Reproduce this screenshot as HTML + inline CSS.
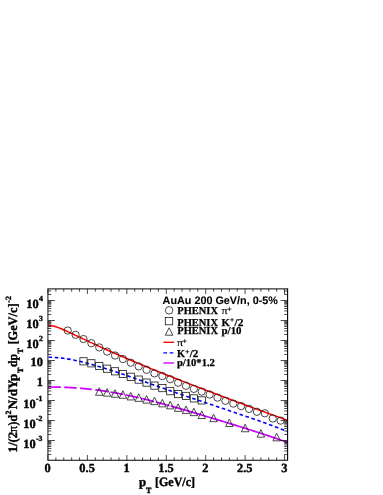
<!DOCTYPE html>
<html><head><meta charset="utf-8"><title>plot</title>
<style>html,body{margin:0;padding:0;background:#fff;}svg{display:block;will-change:transform;opacity:0.999}text{font-family:"Liberation Serif",serif;font-weight:bold;fill:#000;stroke:#000;stroke-width:0.4px;text-rendering:geometricPrecision}.sans{font-family:"Liberation Sans",sans-serif;font-weight:bold;stroke-width:0.1px}.lg{stroke-width:0.25px}</style></head><body>
<svg width="383" height="495" viewBox="0 0 383 495">
<clipPath id="c"><rect x="47.9" y="288.8" width="239.70000000000002" height="171.39999999999998"/></clipPath>
<g fill="none" clip-path="url(#c)">
<path d="M48.00,325.43 L49.72,325.50 L51.45,325.72 L53.17,326.06 L54.89,326.51 L56.62,327.05 L58.34,327.66 L60.07,328.32 L61.79,329.03 L63.51,329.76 L65.24,330.52 L66.96,331.29 L68.68,332.08 L70.41,332.88 L72.13,333.68 L73.86,334.49 L75.58,335.31 L77.30,336.12 L79.03,336.94 L80.75,337.75 L82.47,338.57 L84.20,339.38 L85.92,340.19 L87.65,341.00 L89.37,341.81 L91.09,342.61 L92.82,343.41 L94.54,344.21 L96.26,345.01 L97.99,345.80 L99.71,346.59 L101.44,347.37 L103.16,348.16 L104.88,348.93 L106.61,349.71 L108.33,350.48 L110.05,351.25 L111.78,352.02 L113.50,352.78 L115.23,353.54 L116.95,354.29 L118.67,355.05 L120.40,355.80 L122.12,356.54 L123.84,357.29 L125.57,358.03 L127.29,358.77 L129.02,359.50 L130.74,360.23 L132.46,360.96 L134.19,361.69 L135.91,362.41 L137.63,363.13 L139.36,363.85 L141.08,364.57 L142.81,365.28 L144.53,366.00 L146.25,366.71 L147.98,367.41 L149.70,368.12 L151.42,368.82 L153.15,369.52 L154.87,370.22 L156.60,370.92 L158.32,371.61 L160.04,372.30 L161.77,373.00 L163.49,373.68 L165.21,374.37 L166.94,375.06 L168.66,375.74 L170.39,376.42 L172.11,377.11 L173.83,377.78 L175.56,378.46 L177.28,379.14 L179.00,379.81 L180.73,380.49 L182.45,381.16 L184.18,381.83 L185.90,382.50 L187.62,383.17 L189.35,383.84 L191.07,384.50 L192.79,385.17 L194.52,385.83 L196.24,386.50 L197.97,387.16 L199.69,387.82 L201.41,388.48 L203.14,389.14 L204.86,389.79 L206.58,390.45 L208.31,391.11 L210.03,391.76 L211.76,392.42 L213.48,393.07 L215.20,393.72 L216.93,394.37 L218.65,395.02 L220.37,395.67 L222.10,396.32 L223.82,396.97 L225.55,397.62 L227.27,398.27 L228.99,398.91 L230.72,399.56 L232.44,400.20 L234.16,400.84 L235.89,401.49 L237.61,402.13 L239.34,402.77 L241.06,403.41 L242.78,404.05 L244.51,404.69 L246.23,405.32 L247.95,405.96 L249.68,406.60 L251.40,407.23 L253.13,407.87 L254.85,408.50 L256.57,409.13 L258.30,409.76 L260.02,410.39 L261.74,411.02 L263.47,411.65 L265.19,412.28 L266.92,412.90 L268.64,413.53 L270.36,414.15 L272.09,414.78 L273.81,415.40 L275.53,416.02 L277.26,416.64 L278.98,417.26 L280.71,417.87 L282.43,418.49 L284.15,419.10 L285.88,419.72 L287.60,420.33" stroke="#f00" stroke-width="1.5"/>
<path d="M48.00,357.27 L49.72,357.28 L51.45,357.32 L53.17,357.39 L54.89,357.48 L56.62,357.60 L58.34,357.75 L60.07,357.92 L61.79,358.11 L63.51,358.33 L65.24,358.56 L66.96,358.83 L68.68,359.11 L70.41,359.41 L72.13,359.73 L73.86,360.07 L75.58,360.42 L77.30,360.79 L79.03,361.18 L80.75,361.58 L82.47,362.00 L84.20,362.43 L85.92,362.87 L87.65,363.32 L89.37,363.78 L91.09,364.26 L92.82,364.74 L94.54,365.23 L96.26,365.73 L97.99,366.24 L99.71,366.76 L101.44,367.28 L103.16,367.82 L104.88,368.35 L106.61,368.90 L108.33,369.45 L110.05,370.00 L111.78,370.56 L113.50,371.12 L115.23,371.69 L116.95,372.26 L118.67,372.84 L120.40,373.41 L122.12,374.00 L123.84,374.58 L125.57,375.17 L127.29,375.76 L129.02,376.35 L130.74,376.94 L132.46,377.54 L134.19,378.13 L135.91,378.73 L137.63,379.33 L139.36,379.93 L141.08,380.53 L142.81,381.13 L144.53,381.73 L146.25,382.34 L147.98,382.94 L149.70,383.54 L151.42,384.15 L153.15,384.75 L154.87,385.35 L156.60,385.95 L158.32,386.56 L160.04,387.16 L161.77,387.76 L163.49,388.36 L165.21,388.96 L166.94,389.56 L168.66,390.16 L170.39,390.75 L172.11,391.35 L173.83,391.95 L175.56,392.54 L177.28,393.14 L179.00,393.73 L180.73,394.32 L182.45,394.91 L184.18,395.50 L185.90,396.09 L187.62,396.68 L189.35,397.27 L191.07,397.85 L192.79,398.44 L194.52,399.02 L196.24,399.61 L197.97,400.19 L199.69,400.77 L201.41,401.35 L203.14,401.93 L204.86,402.51 L206.58,403.09 L208.31,403.66 L210.03,404.24 L211.76,404.82 L213.48,405.40 L215.20,405.97 L216.93,406.55 L218.65,407.12 L220.37,407.70 L222.10,408.27 L223.82,408.85 L225.55,409.43 L227.27,410.00 L228.99,410.58 L230.72,411.16 L232.44,411.74 L234.16,412.32 L235.89,412.90 L237.61,413.48 L239.34,414.06 L241.06,414.64 L242.78,415.23 L244.51,415.82 L246.23,416.41 L247.95,417.00 L249.68,417.59 L251.40,418.19 L253.13,418.79 L254.85,419.39 L256.57,419.99 L258.30,420.60 L260.02,421.21 L261.74,421.83 L263.47,422.45 L265.19,423.07 L266.92,423.69 L268.64,424.33 L270.36,424.96 L272.09,425.60 L273.81,426.25 L275.53,426.90 L277.26,427.56 L278.98,428.22 L280.71,428.89 L282.43,429.56 L284.15,430.24 L285.88,430.93 L287.60,431.63" stroke="#00f" stroke-width="1.6" stroke-dasharray="3.6 2.65" stroke-dashoffset="-0.45"/>
<path d="M48.00,386.97 L49.72,386.98 L51.45,386.99 L53.17,387.01 L54.89,387.03 L56.62,387.06 L58.34,387.10 L60.07,387.15 L61.79,387.21 L63.51,387.27 L65.24,387.34 L66.96,387.42 L68.68,387.50 L70.41,387.59 L72.13,387.69 L73.86,387.80 L75.58,387.92 L77.30,388.04 L79.03,388.18 L80.75,388.32 L82.47,388.47 L84.20,388.63 L85.92,388.79 L87.65,388.97 L89.37,389.15 L91.09,389.34 L92.82,389.54 L94.54,389.75 L96.26,389.96 L97.99,390.19 L99.71,390.42 L101.44,390.66 L103.16,390.91 L104.88,391.17 L106.61,391.44 L108.33,391.71 L110.05,392.00 L111.78,392.29 L113.50,392.58 L115.23,392.89 L116.95,393.20 L118.67,393.53 L120.40,393.85 L122.12,394.19 L123.84,394.53 L125.57,394.88 L127.29,395.24 L129.02,395.60 L130.74,395.98 L132.46,396.35 L134.19,396.74 L135.91,397.12 L137.63,397.52 L139.36,397.92 L141.08,398.33 L142.81,398.74 L144.53,399.16 L146.25,399.58 L147.98,400.01 L149.70,400.44 L151.42,400.88 L153.15,401.32 L154.87,401.77 L156.60,402.22 L158.32,402.67 L160.04,403.13 L161.77,403.59 L163.49,404.06 L165.21,404.53 L166.94,405.00 L168.66,405.48 L170.39,405.95 L172.11,406.44 L173.83,406.92 L175.56,407.41 L177.28,407.90 L179.00,408.39 L180.73,408.88 L182.45,409.38 L184.18,409.88 L185.90,410.38 L187.62,410.88 L189.35,411.38 L191.07,411.89 L192.79,412.39 L194.52,412.90 L196.24,413.41 L197.97,413.92 L199.69,414.43 L201.41,414.95 L203.14,415.46 L204.86,415.98 L206.58,416.49 L208.31,417.01 L210.03,417.53 L211.76,418.05 L213.48,418.57 L215.20,419.09 L216.93,419.61 L218.65,420.13 L220.37,420.66 L222.10,421.18 L223.82,421.71 L225.55,422.24 L227.27,422.76 L228.99,423.29 L230.72,423.82 L232.44,424.35 L234.16,424.89 L235.89,425.42 L237.61,425.95 L239.34,426.49 L241.06,427.03 L242.78,427.57 L244.51,428.11 L246.23,428.65 L247.95,429.19 L249.68,429.74 L251.40,430.29 L253.13,430.84 L254.85,431.39 L256.57,431.95 L258.30,432.50 L260.02,433.06 L261.74,433.63 L263.47,434.19 L265.19,434.76 L266.92,435.34 L268.64,435.91 L270.36,436.49 L272.09,437.08 L273.81,437.67 L275.53,438.26 L277.26,438.86 L278.98,439.46 L280.71,440.07 L282.43,440.68 L284.15,441.30 L285.88,441.92 L287.60,442.55" stroke="#c0f" stroke-width="1.7" stroke-dasharray="12.90 3.30 12.62 3.21 11.86 3.53 12.93 2.53 13.02 2.35 13.31 2.16 13.70 1.76 14.09 1.35 400"/>
</g>
<g fill="none" stroke="#1a1a1a" stroke-width="0.8">
<circle cx="67.71" cy="330.50" r="3.65"/>
<circle cx="75.60" cy="334.80" r="3.65"/>
<circle cx="83.48" cy="339.05" r="3.65"/>
<circle cx="91.37" cy="343.20" r="3.65"/>
<circle cx="99.25" cy="347.40" r="3.65"/>
<circle cx="107.14" cy="351.60" r="3.65"/>
<circle cx="115.02" cy="355.50" r="3.65"/>
<circle cx="122.91" cy="359.05" r="3.65"/>
<circle cx="130.79" cy="362.70" r="3.65"/>
<circle cx="138.68" cy="366.40" r="3.65"/>
<circle cx="146.56" cy="369.80" r="3.65"/>
<circle cx="154.45" cy="373.40" r="3.65"/>
<circle cx="162.33" cy="376.10" r="3.65"/>
<circle cx="170.22" cy="379.20" r="3.65"/>
<circle cx="178.10" cy="382.70" r="3.65"/>
<circle cx="185.99" cy="385.80" r="3.65"/>
<circle cx="193.87" cy="388.90" r="3.65"/>
<circle cx="201.76" cy="391.60" r="3.65"/>
<circle cx="209.64" cy="394.50" r="3.65"/>
<circle cx="217.53" cy="397.60" r="3.65"/>
<circle cx="225.41" cy="400.80" r="3.65"/>
<circle cx="233.30" cy="403.60" r="3.65"/>
<circle cx="241.18" cy="406.10" r="3.65"/>
<circle cx="249.07" cy="408.90" r="3.65"/>
<circle cx="256.95" cy="411.80" r="3.65"/>
<circle cx="264.84" cy="413.30" r="3.65"/>
<circle cx="272.72" cy="418.50" r="3.65"/>
<circle cx="280.61" cy="420.60" r="3.65"/>
<rect x="79.88" y="357.70" width="7.2" height="7.2"/>
<rect x="87.77" y="359.70" width="7.2" height="7.2"/>
<rect x="95.65" y="362.40" width="7.2" height="7.2"/>
<rect x="103.54" y="365.10" width="7.2" height="7.2"/>
<rect x="111.42" y="367.70" width="7.2" height="7.2"/>
<rect x="119.31" y="370.40" width="7.2" height="7.2"/>
<rect x="127.19" y="373.20" width="7.2" height="7.2"/>
<rect x="135.08" y="376.00" width="7.2" height="7.2"/>
<rect x="142.96" y="379.00" width="7.2" height="7.2"/>
<rect x="150.85" y="382.00" width="7.2" height="7.2"/>
<rect x="158.73" y="384.50" width="7.2" height="7.2"/>
<rect x="166.62" y="387.60" width="7.2" height="7.2"/>
<rect x="174.50" y="390.50" width="7.2" height="7.2"/>
<rect x="182.39" y="392.30" width="7.2" height="7.2"/>
<rect x="190.27" y="394.80" width="7.2" height="7.2"/>
<rect x="198.16" y="396.80" width="7.2" height="7.2"/>
<path d="M95.50,395.25 L103.00,395.25 L99.25,387.75 Z"/>
<path d="M103.39,396.15 L110.89,396.15 L107.14,388.65 Z"/>
<path d="M111.27,397.25 L118.77,397.25 L115.02,389.75 Z"/>
<path d="M119.16,398.25 L126.66,398.25 L122.91,390.75 Z"/>
<path d="M127.04,399.95 L134.54,399.95 L130.79,392.45 Z"/>
<path d="M134.93,401.35 L142.43,401.35 L138.68,393.85 Z"/>
<path d="M142.81,403.15 L150.31,403.15 L146.56,395.65 Z"/>
<path d="M150.70,404.65 L158.20,404.65 L154.45,397.15 Z"/>
<path d="M158.58,406.85 L166.08,406.85 L162.33,399.35 Z"/>
<path d="M166.47,408.85 L173.97,408.85 L170.22,401.35 Z"/>
<path d="M174.35,411.35 L181.85,411.35 L178.10,403.85 Z"/>
<path d="M182.24,413.45 L189.74,413.45 L185.99,405.95 Z"/>
<path d="M190.12,415.65 L197.62,415.65 L193.87,408.15 Z"/>
<path d="M198.01,418.55 L205.51,418.55 L201.76,411.05 Z"/>
<path d="M209.84,421.65 L217.34,421.65 L213.59,414.15 Z"/>
<path d="M225.60,426.55 L233.10,426.55 L229.35,419.05 Z"/>
<path d="M241.38,431.75 L248.88,431.75 L245.12,424.25 Z"/>
<path d="M257.14,437.15 L264.64,437.15 L260.89,429.65 Z"/>
<path d="M272.91,440.85 L280.41,440.85 L276.66,433.35 Z"/>
</g>
<g stroke="#111" stroke-width="0.75" fill="none">
<path d="M287.6,288.25 V460.75 M47.9,460.2 H287.6" stroke-width="1.1" stroke="#000"/>
<path d="M47.9,288.25 V460.75 M47.9,288.8 H287.6" stroke-width="1.15" stroke="#333"/>
<path d="M48.00,460.2 v-5.2 M48.00,288.8 v5.2 M55.88,460.2 v-2.9 M55.88,288.8 v2.9 M63.77,460.2 v-2.9 M63.77,288.8 v2.9 M71.66,460.2 v-2.9 M71.66,288.8 v2.9 M79.54,460.2 v-2.9 M79.54,288.8 v2.9 M87.42,460.2 v-5.2 M87.42,288.8 v5.2 M95.31,460.2 v-2.9 M95.31,288.8 v2.9 M103.19,460.2 v-2.9 M103.19,288.8 v2.9 M111.08,460.2 v-2.9 M111.08,288.8 v2.9 M118.97,460.2 v-2.9 M118.97,288.8 v2.9 M126.85,460.2 v-5.2 M126.85,288.8 v5.2 M134.74,460.2 v-2.9 M134.74,288.8 v2.9 M142.62,460.2 v-2.9 M142.62,288.8 v2.9 M150.50,460.2 v-2.9 M150.50,288.8 v2.9 M158.39,460.2 v-2.9 M158.39,288.8 v2.9 M166.27,460.2 v-5.2 M166.27,288.8 v5.2 M174.16,460.2 v-2.9 M174.16,288.8 v2.9 M182.04,460.2 v-2.9 M182.04,288.8 v2.9 M189.93,460.2 v-2.9 M189.93,288.8 v2.9 M197.81,460.2 v-2.9 M197.81,288.8 v2.9 M205.70,460.2 v-5.2 M205.70,288.8 v5.2 M213.59,460.2 v-2.9 M213.59,288.8 v2.9 M221.47,460.2 v-2.9 M221.47,288.8 v2.9 M229.35,460.2 v-2.9 M229.35,288.8 v2.9 M237.24,460.2 v-2.9 M237.24,288.8 v2.9 M245.12,460.2 v-5.2 M245.12,288.8 v5.2 M253.01,460.2 v-2.9 M253.01,288.8 v2.9 M260.89,460.2 v-2.9 M260.89,288.8 v2.9 M268.78,460.2 v-2.9 M268.78,288.8 v2.9 M276.66,460.2 v-2.9 M276.66,288.8 v2.9 M284.55,460.2 v-5.2 M284.55,288.8 v5.2 M47.9,454.48 h3.4 M287.6,454.48 h-3.4 M47.9,450.96 h3.4 M287.6,450.96 h-3.4 M47.9,448.46 h3.4 M287.6,448.46 h-3.4 M47.9,446.52 h3.4 M287.6,446.52 h-3.4 M47.9,444.94 h3.4 M287.6,444.94 h-3.4 M47.9,443.60 h3.4 M287.6,443.60 h-3.4 M47.9,442.44 h3.4 M287.6,442.44 h-3.4 M47.9,441.42 h3.4 M287.6,441.42 h-3.4 M47.9,440.50 h7.0 M287.6,440.50 h-7.0 M47.9,434.48 h3.4 M287.6,434.48 h-3.4 M47.9,430.96 h3.4 M287.6,430.96 h-3.4 M47.9,428.46 h3.4 M287.6,428.46 h-3.4 M47.9,426.52 h3.4 M287.6,426.52 h-3.4 M47.9,424.94 h3.4 M287.6,424.94 h-3.4 M47.9,423.60 h3.4 M287.6,423.60 h-3.4 M47.9,422.44 h3.4 M287.6,422.44 h-3.4 M47.9,421.42 h3.4 M287.6,421.42 h-3.4 M47.9,420.50 h7.0 M287.6,420.50 h-7.0 M47.9,414.48 h3.4 M287.6,414.48 h-3.4 M47.9,410.96 h3.4 M287.6,410.96 h-3.4 M47.9,408.46 h3.4 M287.6,408.46 h-3.4 M47.9,406.52 h3.4 M287.6,406.52 h-3.4 M47.9,404.94 h3.4 M287.6,404.94 h-3.4 M47.9,403.60 h3.4 M287.6,403.60 h-3.4 M47.9,402.44 h3.4 M287.6,402.44 h-3.4 M47.9,401.42 h3.4 M287.6,401.42 h-3.4 M47.9,400.50 h7.0 M287.6,400.50 h-7.0 M47.9,394.48 h3.4 M287.6,394.48 h-3.4 M47.9,390.96 h3.4 M287.6,390.96 h-3.4 M47.9,388.46 h3.4 M287.6,388.46 h-3.4 M47.9,386.52 h3.4 M287.6,386.52 h-3.4 M47.9,384.94 h3.4 M287.6,384.94 h-3.4 M47.9,383.60 h3.4 M287.6,383.60 h-3.4 M47.9,382.44 h3.4 M287.6,382.44 h-3.4 M47.9,381.42 h3.4 M287.6,381.42 h-3.4 M47.9,380.50 h7.0 M287.6,380.50 h-7.0 M47.9,374.48 h3.4 M287.6,374.48 h-3.4 M47.9,370.96 h3.4 M287.6,370.96 h-3.4 M47.9,368.46 h3.4 M287.6,368.46 h-3.4 M47.9,366.52 h3.4 M287.6,366.52 h-3.4 M47.9,364.94 h3.4 M287.6,364.94 h-3.4 M47.9,363.60 h3.4 M287.6,363.60 h-3.4 M47.9,362.44 h3.4 M287.6,362.44 h-3.4 M47.9,361.42 h3.4 M287.6,361.42 h-3.4 M47.9,360.50 h7.0 M287.6,360.50 h-7.0 M47.9,354.48 h3.4 M287.6,354.48 h-3.4 M47.9,350.96 h3.4 M287.6,350.96 h-3.4 M47.9,348.46 h3.4 M287.6,348.46 h-3.4 M47.9,346.52 h3.4 M287.6,346.52 h-3.4 M47.9,344.94 h3.4 M287.6,344.94 h-3.4 M47.9,343.60 h3.4 M287.6,343.60 h-3.4 M47.9,342.44 h3.4 M287.6,342.44 h-3.4 M47.9,341.42 h3.4 M287.6,341.42 h-3.4 M47.9,340.50 h7.0 M287.6,340.50 h-7.0 M47.9,334.48 h3.4 M287.6,334.48 h-3.4 M47.9,330.96 h3.4 M287.6,330.96 h-3.4 M47.9,328.46 h3.4 M287.6,328.46 h-3.4 M47.9,326.52 h3.4 M287.6,326.52 h-3.4 M47.9,324.94 h3.4 M287.6,324.94 h-3.4 M47.9,323.60 h3.4 M287.6,323.60 h-3.4 M47.9,322.44 h3.4 M287.6,322.44 h-3.4 M47.9,321.42 h3.4 M287.6,321.42 h-3.4 M47.9,320.50 h7.0 M287.6,320.50 h-7.0 M47.9,314.48 h3.4 M287.6,314.48 h-3.4 M47.9,310.96 h3.4 M287.6,310.96 h-3.4 M47.9,308.46 h3.4 M287.6,308.46 h-3.4 M47.9,306.52 h3.4 M287.6,306.52 h-3.4 M47.9,304.94 h3.4 M287.6,304.94 h-3.4 M47.9,303.60 h3.4 M287.6,303.60 h-3.4 M47.9,302.44 h3.4 M287.6,302.44 h-3.4 M47.9,301.42 h3.4 M287.6,301.42 h-3.4 M47.9,300.50 h7.0 M287.6,300.50 h-7.0 M47.9,294.48 h3.4 M287.6,294.48 h-3.4 M47.9,290.96 h3.4 M287.6,290.96 h-3.4"/>
</g>
<g transform="rotate(0.0001)">
<text x="47.70" y="472.2" font-size="12.4" text-anchor="middle">0</text>
<text x="87.12" y="472.2" font-size="12.4" text-anchor="middle">0.5</text>
<text x="126.55" y="472.2" font-size="12.4" text-anchor="middle">1</text>
<text x="165.97" y="472.2" font-size="12.4" text-anchor="middle">1.5</text>
<text x="205.40" y="472.2" font-size="12.4" text-anchor="middle">2</text>
<text x="244.82" y="472.2" font-size="12.4" text-anchor="middle">2.5</text>
<text x="284.25" y="472.2" font-size="12.4" text-anchor="middle">3</text>
<text x="35.7" y="447.65" font-size="12.4" text-anchor="end">10</text>
<text x="36.0" y="441.35" font-size="7.8">-3</text>
<text x="35.7" y="427.65" font-size="12.4" text-anchor="end">10</text>
<text x="36.0" y="421.35" font-size="7.8">-2</text>
<text x="35.7" y="407.65" font-size="12.4" text-anchor="end">10</text>
<text x="36.0" y="401.35" font-size="7.8">-1</text>
<text x="42.9" y="386.20" font-size="12.4" text-anchor="end">1</text>
<text x="42.9" y="365.90" font-size="12.4" text-anchor="end">10</text>
<text x="38.6" y="347.65" font-size="12.4" text-anchor="end">10</text>
<text x="38.9" y="341.35" font-size="7.8">2</text>
<text x="38.6" y="327.65" font-size="12.4" text-anchor="end">10</text>
<text x="38.9" y="321.35" font-size="7.8">3</text>
<text x="38.6" y="307.65" font-size="12.4" text-anchor="end">10</text>
<text x="38.9" y="301.35" font-size="7.8">4</text>
<text x="138.9" y="486.1" font-size="12.8">p</text>
<text x="146.0" y="492.6" font-size="8">T</text>
<text x="155.0" y="486.1" font-size="12.8" textLength="40.0" lengthAdjust="spacingAndGlyphs">[GeV/c]</text>
</g>
<g transform="translate(16.8,452.4) rotate(-90)">
<text x="0" y="0" font-size="12.8" textLength="20.6" lengthAdjust="spacingAndGlyphs">1/(2</text>
<text x="20.2" y="0" font-size="12.8" textLength="6.5" lengthAdjust="spacingAndGlyphs" style="font-weight:normal">π</text>
<text x="26.9" y="0" font-size="12.8" textLength="10.4" lengthAdjust="spacingAndGlyphs">)d</text>
<text x="37.8" y="-6.0" font-size="8">2</text>
<text x="43.1" y="0" font-size="12.8" textLength="35.6" lengthAdjust="spacingAndGlyphs">N/dYp</text>
<text x="79.5" y="6.3" font-size="8">T</text>
<text x="85.4" y="0" font-size="12.8" textLength="13.2" lengthAdjust="spacingAndGlyphs">dp</text>
<text x="98.9" y="6.3" font-size="8">T</text>
<text x="107.9" y="0" font-size="12.8" textLength="41.0" lengthAdjust="spacingAndGlyphs">[GeV/c]</text>
<text x="149.7" y="-6.0" font-size="8">-2</text>
</g>
<g transform="rotate(0.0001)">
<text x="162.6" y="303.5" font-size="10.9" textLength="115.3" lengthAdjust="spacingAndGlyphs" class="sans">AuAu 200 GeV/n, 0-5%</text>
<text x="177.3" y="314.0" font-size="10.6" textLength="40.7" lengthAdjust="spacingAndGlyphs" class="lg">PHENIX</text>
<text x="221.6" y="314.0" font-size="10.6" textLength="6.2" lengthAdjust="spacingAndGlyphs" style="font-weight:normal;stroke-width:0.15px">π</text>
<path d="M227.55,309.10 h3.8 M229.45,307.20 v3.8" stroke="#000" stroke-width="0.75" fill="none"/>
<text x="177.3" y="325.6" font-size="10.6" textLength="40.7" lengthAdjust="spacingAndGlyphs" class="lg">PHENIX</text>
<text x="221.6" y="325.6" font-size="10.6" textLength="8.3" lengthAdjust="spacingAndGlyphs" class="lg">K</text>
<path d="M230.15,319.80 h3.8 M232.05,317.90 v3.8" stroke="#000" stroke-width="0.75" fill="none"/>
<text x="234.6" y="325.6" font-size="10.6" textLength="8.8" lengthAdjust="spacingAndGlyphs" class="lg">/2</text>
<text x="177.3" y="333.9" font-size="10.6" textLength="40.7" lengthAdjust="spacingAndGlyphs" class="lg">PHENIX</text>
<text x="221.6" y="333.9" font-size="10.6" textLength="19.9" lengthAdjust="spacingAndGlyphs" class="lg">p/10</text>
<text x="176.9" y="346.1" font-size="10.6" textLength="6.2" lengthAdjust="spacingAndGlyphs" style="font-weight:normal;stroke-width:0.15px">π</text>
<path d="M182.80,341.10 h3.8 M184.70,339.20 v3.8" stroke="#000" stroke-width="0.75" fill="none"/>
<text x="176.9" y="357.2" font-size="10.6" textLength="8.0" lengthAdjust="spacingAndGlyphs" class="lg">K</text>
<path d="M185.40,351.70 h3.8 M187.30,349.80 v3.8" stroke="#000" stroke-width="0.75" fill="none"/>
<text x="189.8" y="357.2" font-size="10.6" textLength="8.6" lengthAdjust="spacingAndGlyphs" class="lg">/2</text>
<text x="176.9" y="366.0" font-size="10.6" textLength="38.0" lengthAdjust="spacingAndGlyphs" class="lg">p/10*1.2</text>
</g>
<g fill="none" stroke="#1a1a1a" stroke-width="0.8">
<circle cx="169.1" cy="310.3" r="3.75"/>
<rect x="165.3" y="317.5" width="7.4" height="7.3"/>
<path d="M165.3,335.2 L172.9,335.2 L169.1,327.8 Z"/>
</g>
<path d="M163.4,342.3 H174.1" stroke="#f00" stroke-width="1.35"/>
<path d="M163.4,352.9 H174.1" stroke="#00f" stroke-width="1.35" stroke-dasharray="3.7 2.6 3.7 10"/>
<path d="M163.4,363.0 H174.1" stroke="#c0f" stroke-width="1.35"/>
</svg></body></html>
